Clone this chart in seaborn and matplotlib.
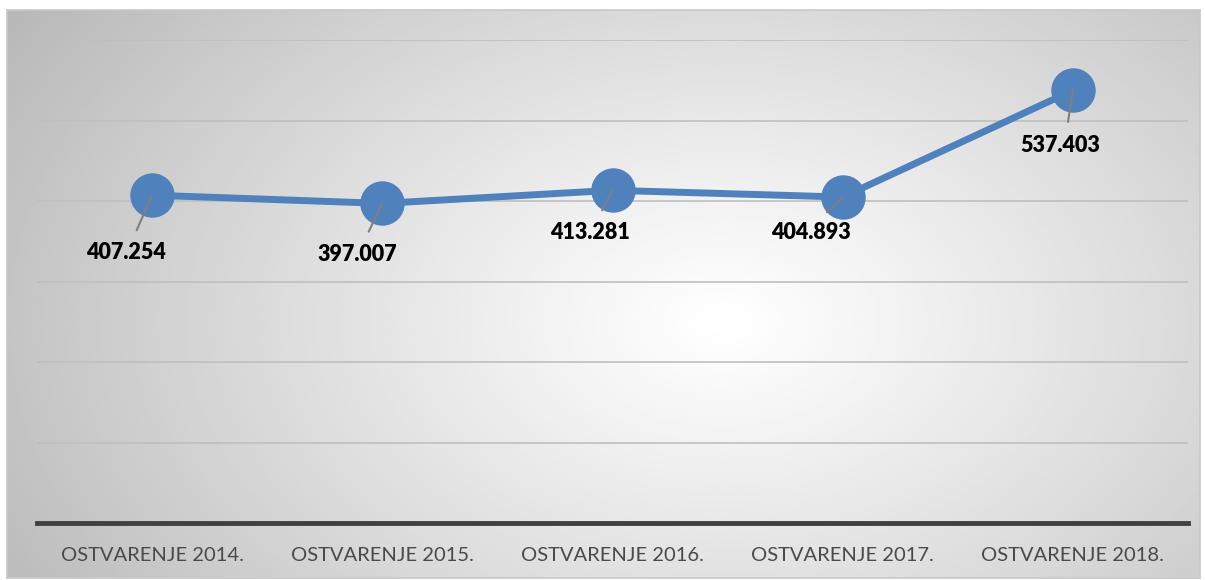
import numpy as np
import matplotlib
matplotlib.use("Agg")
import matplotlib.pyplot as plt
import seaborn as sns

# chart data
categories = ["OSTVARENJE 2014.", "OSTVARENJE 2015.", "OSTVARENJE 2016.",
              "OSTVARENJE 2017.", "OSTVARENJE 2018."]
values = [407.254, 397.007, 413.281, 404.893, 537.403]
value_labels = ["407.254", "397.007", "413.281", "404.893", "537.403"]
y_ticks = [0, 100, 200, 300, 400, 500, 600]

sns.set_theme(style="white")
plt.rcParams["font.family"] = ["Lato", "DejaVu Sans"]

W, H = 1205, 580
fig = plt.figure(figsize=(W / 100, H / 100), dpi=100)

# radial gradient backdrop (white in the middle, grey at the edges)
bg = fig.add_axes([7 / W, 2 / H, 1193 / W, 568 / H])
gx, gy = np.meshgrid(np.linspace(0, 1, 400), np.linspace(0, 1, 200))
r = np.sqrt(((gx - 0.6) / 0.6) ** 2 + ((gy - 0.45) / 0.85) ** 2)
r = np.clip(r / r.max(), 0, 1)
shade = 1.0 - 0.28 * r ** 1.1
bg.imshow(shade, cmap="gray", vmin=0, vmax=1, aspect="auto",
          extent=[0, 1, 0, 1], origin="lower")
bg.set_xticks([])
bg.set_yticks([])
for sp in bg.spines.values():
    sp.set_color("#c8c8c8")
    sp.set_linewidth(1.2)

ax = fig.add_axes([37 / W, 57 / H, 1151 / W, 483 / H])
ax.patch.set_alpha(0)

sns.lineplot(x=categories, y=values, ax=ax, color="#4f81bd", linewidth=5,
             marker="o", markersize=32, markeredgewidth=0, sort=False, zorder=3)

ax.set_xlim(-0.5, 4.5)
ax.set_ylim(y_ticks[0], y_ticks[-1])
ax.set_yticks(y_ticks)
ax.set_yticklabels([])
ax.yaxis.grid(True, color="#bfbfbf", linewidth=1.2)
ax.xaxis.grid(False)
ax.tick_params(axis="y", length=0)
ax.tick_params(axis="x", length=0, pad=17, labelsize=14.5, labelcolor="#4a4a4a")
for name in ["top", "right", "left"]:
    ax.spines[name].set_visible(False)
ax.spines["bottom"].set_color("#404040")
ax.spines["bottom"].set_linewidth(3.5)
ax.set_xlabel("")
ax.set_ylabel("")

# data labels below-left of each point with a grey leader line
offsets = [(-19, -34), (-18, -29), (-16, -23), (-23, -18), (-9, -32)]
for i, (v, lab) in enumerate(zip(values, value_labels)):
    ax.annotate(lab, xy=(i, v), xytext=offsets[i], textcoords="offset points",
                ha="center", va="top", fontsize=15.5, fontweight="heavy",
                color="black", zorder=5,
                arrowprops=dict(arrowstyle="-", color="#7f7f7f", lw=1.5,
                                shrinkA=7, shrinkB=0, relpos=(0.57, 1.0)))

fig.savefig("out.png", dpi=100)
